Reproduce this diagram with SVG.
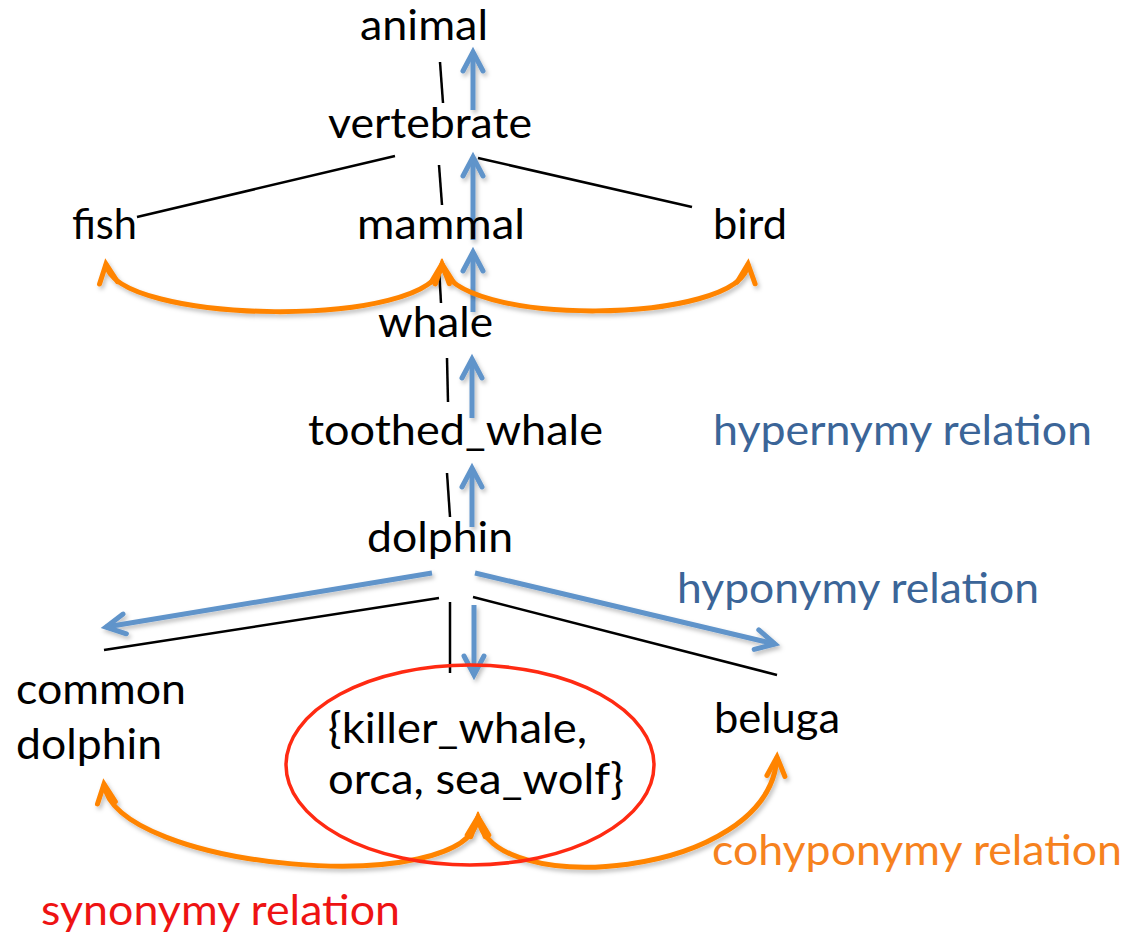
<svg xmlns="http://www.w3.org/2000/svg" width="1127" height="946" viewBox="0 0 1127 946">
  <style>
    text { font-family: Lato, "Open Sans", "Liberation Sans", sans-serif; font-size: 42px; fill: #000; }
    .blue-label { fill: #3b6598; }
    .orange-label { fill: #f6821e; }
    .red-label { fill: #ee1313; }
    .tree { stroke: #000; stroke-width: 2.5; fill: none; stroke-linecap: butt; }
    .hyp { stroke: #6094ca; stroke-width: 5; fill: none; marker-end: url(#blueHead); }
    .cohyp { stroke: #ff8400; stroke-width: 5; fill: none; marker-start: url(#orangeHead); marker-end: url(#orangeHead); }
  </style>
  <defs>
    <filter id="shadow" filterUnits="userSpaceOnUse" x="0" y="0" width="1127" height="946">
      <feDropShadow dx="2" dy="3" stdDeviation="2" flood-color="#000" flood-opacity="0.25"/>
    </filter>
    <marker id="blueHead" markerUnits="userSpaceOnUse" markerWidth="40" markerHeight="40" refX="0" refY="0" viewBox="-30 -20 40 40" orient="auto" overflow="visible">
      <path d="M-19,-10 L0,0 L-19,10" fill="none" stroke="#6094ca" stroke-width="5" stroke-linecap="round" stroke-linejoin="miter"/>
    </marker>
    <marker id="orangeHead" markerUnits="userSpaceOnUse" markerWidth="40" markerHeight="40" refX="0" refY="0" viewBox="-30 -20 40 40" orient="auto-start-reverse" overflow="visible">
      <path d="M-19,-9 L0,0 L-19,9" fill="none" stroke="#ff8400" stroke-width="5" stroke-linecap="round" stroke-linejoin="miter"/>
    </marker>
  </defs>

  <rect width="1127" height="946" fill="#fff"/>

  <!-- taxonomy edges, relation arrows and synonym set outline -->
  <g id="connectors">
    <g id="tree-edges">
      <line class="tree" x1="440" y1="62" x2="443" y2="103"/>
      <line class="tree" x1="137" y1="217" x2="395" y2="156"/>
      <line class="tree" x1="478" y1="158" x2="692" y2="207"/>
      <line class="tree" x1="439" y1="165" x2="442" y2="205"/>
      <line class="tree" x1="439" y1="268" x2="441" y2="303"/>
      <line class="tree" x1="447" y1="358" x2="448" y2="402"/>
      <line class="tree" x1="447" y1="473" x2="450" y2="517"/>
      <line class="tree" x1="439" y1="598" x2="104" y2="650"/>
      <line class="tree" x1="450" y1="602" x2="450" y2="673"/>
      <line class="tree" x1="473" y1="597" x2="777" y2="675"/>
    </g>
    <g id="hypernymy-arrows" filter="url(#shadow)">
      <line class="hyp" x1="473" y1="110" x2="473" y2="52"/>
      <line class="hyp" x1="473" y1="240" x2="473" y2="157"/>
      <line class="hyp" x1="473" y1="312" x2="473" y2="252"/>
      <line class="hyp" x1="472" y1="418" x2="472" y2="359"/>
      <line class="hyp" x1="472" y1="527" x2="472" y2="468"/>
    </g>
    <g id="hyponymy-arrows" filter="url(#shadow)">
      <line class="hyp" x1="432" y1="573" x2="106" y2="627"/>
      <line class="hyp" x1="475" y1="573" x2="775" y2="644"/>
      <line class="hyp" x1="474" y1="605" x2="474" y2="675"/>
    </g>
    <g id="cohyponymy-arcs" filter="url(#shadow)">
      <path class="cohyp" d="M106,264 C114,325 436,330 442,264"/>
      <path class="cohyp" d="M442,264 C450,328 742,325 748,264"/>
      <path class="cohyp" d="M104,784 C115,870 470,900 478,817"/>
      <path class="cohyp" d="M478,817 C486,900 770,880 777,757"/>
    </g>
    <ellipse id="synset-outline" cx="470" cy="765" rx="184" ry="100" fill="none" stroke="#ff2a12" stroke-width="3.5"/>
  </g>

  <g id="node-animal"><text x="360" y="40" textLength="128" lengthAdjust="spacingAndGlyphs">animal</text></g>
  <g id="node-vertebrate"><text x="328" y="138" textLength="204" lengthAdjust="spacingAndGlyphs">vertebrate</text></g>
  <g id="node-fish"><text x="72" y="239" textLength="65" lengthAdjust="spacingAndGlyphs">fish</text></g>
  <g id="node-mammal"><text x="357" y="239" textLength="168" lengthAdjust="spacingAndGlyphs">mammal</text></g>
  <g id="node-bird"><text x="713" y="239" textLength="74" lengthAdjust="spacingAndGlyphs">bird</text></g>
  <g id="node-whale"><text x="378" y="337" textLength="115" lengthAdjust="spacingAndGlyphs">whale</text></g>
  <g id="node-toothed-whale"><text x="308" y="445" textLength="295" lengthAdjust="spacingAndGlyphs">toothed_whale</text></g>
  <g id="node-dolphin"><text x="367" y="552" textLength="146" lengthAdjust="spacingAndGlyphs">dolphin</text></g>
  <g id="node-common-dolphin">
    <text x="16" y="704" textLength="170" lengthAdjust="spacingAndGlyphs">common</text>
    <text x="16" y="759" textLength="146" lengthAdjust="spacingAndGlyphs">dolphin</text>
  </g>
  <g id="node-killer-whale">
    <text x="328" y="743" textLength="259" lengthAdjust="spacingAndGlyphs">{killer_whale,</text>
    <text x="328" y="794" textLength="296" lengthAdjust="spacingAndGlyphs">orca, sea_wolf}</text>
  </g>
  <g id="node-beluga"><text x="714" y="733" textLength="126" lengthAdjust="spacingAndGlyphs">beluga</text></g>

  <g id="legend">
    <text class="blue-label" x="713" y="445" textLength="379" lengthAdjust="spacingAndGlyphs">hypernymy relation</text>
    <text class="blue-label" x="677" y="603" textLength="362" lengthAdjust="spacingAndGlyphs">hyponymy relation</text>
    <text class="orange-label" x="712" y="865" textLength="410" lengthAdjust="spacingAndGlyphs">cohyponymy relation</text>
    <text class="red-label" x="41" y="925" textLength="359" lengthAdjust="spacingAndGlyphs">synonymy relation</text>
  </g>
</svg>
